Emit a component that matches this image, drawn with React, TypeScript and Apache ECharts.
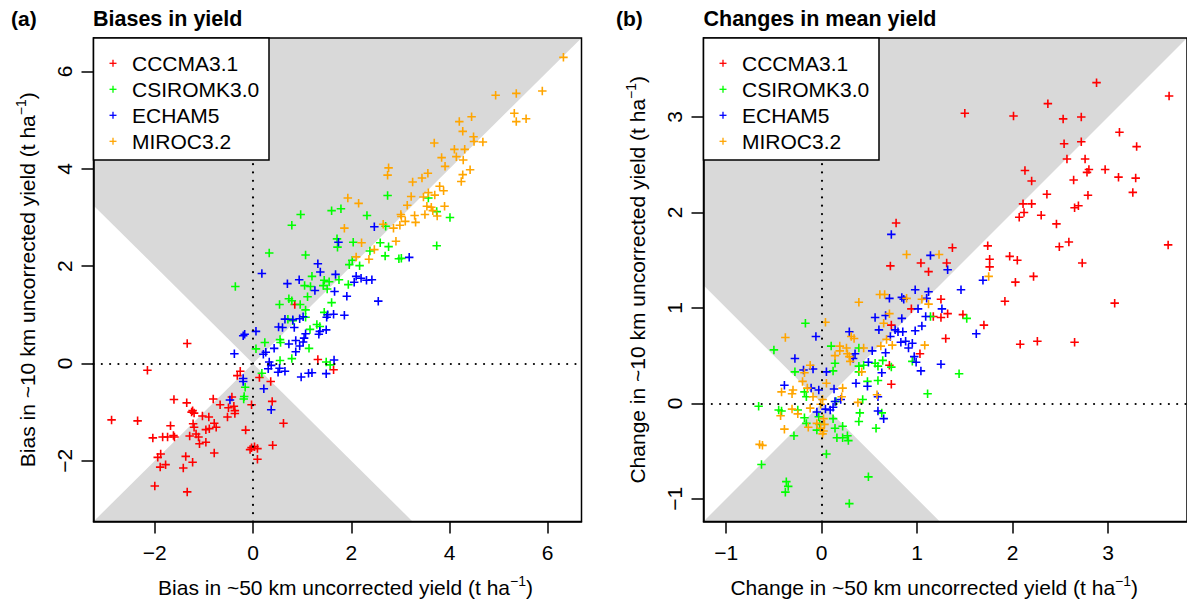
import React, { useEffect, useRef } from 'react';
import * as echarts from 'echarts';

const models = ['CCCMA3.1', 'CSIROMK3.0', 'ECHAM5', 'MIROC3.2'];
const modelColors = ['#FF0000', '#00FF00', '#0000FF', '#FFA500'];

// Panel (a): biases in yield [~50 km bias, ~10 km bias]
const biasCCCMA = [[-1.34,0.41],[-2.15,-0.14],[0.36,-0.37],[-1.61,-0.74],[-1.35,-0.81],[-1.23,-0.97],[-1.25,-1.00],[-1.20,-1.02],[-0.81,-0.73],[-0.67,-0.85],[-0.50,-0.91],[-0.39,-0.88],[-0.37,-0.97],[-0.52,-1.10],[-0.37,-1.03],[-0.43,-0.69],[-0.03,-0.85],[0.39,-0.78],[0.62,-1.23],[-0.15,-1.37],[-2.88,-1.16],[-2.35,-1.18],[-1.68,-1.28],[-1.03,-1.08],[-0.90,-1.10],[-1.22,-1.24],[-1.20,-1.31],[-0.96,-1.36],[-0.89,-1.34],[-0.79,-1.23],[-0.75,-1.31],[-2.04,-1.53],[-1.84,-1.51],[-1.74,-1.51],[-1.62,-1.48],[-1.60,-1.51],[-1.29,-1.49],[-1.16,-1.45],[-1.11,-1.51],[-1.09,-1.65],[-0.96,-1.62],[-0.79,-1.84],[-1.88,-1.86],[-1.94,-1.93],[-1.78,-2.08],[-1.89,-2.13],[-1.37,-1.91],[-1.23,-2.03],[-1.42,-2.15],[-2.00,-2.52],[-1.34,-2.64],[-0.03,-1.73],[0.03,-1.71],[-0.06,-1.77],[0.09,-1.75],[0.09,-1.97],[0.40,-1.68],[0.85,1.21],[1.32,0.08],[1.64,-0.13],[-0.26,-0.16],[-0.32,-0.25],[0.13,-0.29]];
const biasCSIRO = [[2.74,3.45],[1.60,3.14],[1.79,3.18],[2.32,3.04],[3.57,3.40],[3.74,3.12],[4.01,3.00],[2.70,2.82],[0.97,3.06],[1.71,2.56],[0.79,2.84],[0.33,2.27],[-0.36,1.58],[1.07,2.23],[1.72,2.39],[2.04,2.49],[2.38,2.31],[2.59,2.48],[2.76,2.40],[2.69,2.21],[2.97,2.15],[3.02,2.16],[3.74,2.42],[2.02,2.12],[1.96,2.03],[2.17,2.01],[1.20,1.79],[1.45,1.71],[1.55,1.68],[1.75,1.72],[1.05,1.60],[1.17,1.58],[1.43,1.60],[1.51,1.53],[1.94,1.62],[1.11,1.37],[0.73,1.33],[0.79,1.29],[0.54,1.21],[0.96,1.21],[1.07,1.10],[1.07,0.95],[1.60,1.25],[1.45,1.05],[0.71,0.91],[0.81,0.88],[1.30,0.80],[1.36,0.76],[1.16,0.70],[0.55,0.49],[0.56,0.43],[0.24,0.43],[0.06,0.30],[1.14,0.31],[0.79,0.10],[0.55,0.06],[1.49,0.03],[1.57,-0.03],[0.18,-0.20],[-0.16,-0.49],[-0.18,-0.68],[-0.19,-0.73]];
const biasECHAM = [[2.47,2.81],[1.74,2.49],[3.18,2.18],[1.32,2.05],[1.37,1.88],[1.68,1.83],[0.18,1.85],[0.94,1.72],[0.70,1.64],[2.10,1.79],[2.20,1.75],[2.31,1.71],[2.42,1.72],[2.06,1.67],[1.26,1.50],[1.66,1.48],[1.91,1.38],[2.55,1.28],[1.52,1.00],[1.64,1.01],[1.86,0.99],[1.50,0.95],[0.65,0.91],[0.81,0.90],[0.95,0.92],[1.02,0.96],[0.52,0.75],[0.60,0.74],[0.84,0.74],[1.49,0.69],[1.34,0.60],[1.36,0.66],[1.07,0.61],[1.04,0.52],[0.87,0.47],[1.02,0.44],[0.95,0.36],[0.73,0.40],[0.43,0.31],[0.26,0.23],[0.21,0.19],[0.87,0.24],[0.06,0.66],[-0.17,0.60],[-0.20,0.57],[-0.38,0.20],[0.33,0.03],[0.37,-0.04],[0.54,-0.10],[0.31,-0.11],[0.65,-0.16],[0.51,-0.18],[1.65,0.07],[1.13,-0.20],[1.20,-0.19],[1.49,-0.21],[0.98,-0.28],[-0.20,-0.31],[-0.20,-0.37],[0.22,-0.52],[0.37,-0.95],[-0.47,-0.75]];
const biasMIROC = [[6.32,6.29],[4.94,5.51],[5.36,5.55],[5.89,5.60],[5.32,5.14],[5.36,4.97],[5.56,5.03],[4.20,4.97],[4.45,5.07],[4.27,4.77],[4.49,4.66],[4.50,4.56],[4.68,4.55],[3.69,4.53],[4.10,4.40],[4.31,4.40],[4.14,4.25],[4.28,4.18],[3.84,4.23],[3.91,4.05],[4.42,3.98],[4.27,3.88],[4.24,3.74],[2.76,4.02],[2.74,3.87],[3.56,3.91],[3.44,3.81],[3.25,3.73],[3.80,3.64],[3.88,3.55],[3.22,3.43],[3.57,3.51],[3.47,3.42],[3.70,3.46],[1.93,3.40],[2.15,3.29],[3.14,3.25],[3.54,3.23],[3.63,3.21],[3.90,3.23],[3.66,3.14],[3.75,3.03],[3.50,3.06],[3.29,3.04],[3.01,3.06],[3.02,3.02],[3.10,2.92],[3.31,2.90],[2.99,2.84],[2.86,2.78],[2.65,2.86],[1.86,2.78],[2.21,2.48],[2.47,2.34],[2.36,2.14],[2.10,2.19],[2.91,2.51]];

// Panel (b): changes in mean yield [~50 km change, ~10 km change]
const changeCCCMA = [[2.88,3.36],[2.37,3.14],[1.50,3.04],[2.01,3.01],[2.53,2.98],[2.72,3.00],[3.12,2.84],[3.30,2.69],[2.54,2.72],[2.72,2.74],[2.57,2.56],[2.76,2.56],[2.80,2.45],[2.78,2.42],[2.97,2.45],[3.11,2.37],[3.29,2.36],[2.64,2.34],[2.13,2.44],[2.20,2.33],[2.79,2.18],[3.26,2.21],[2.36,2.19],[2.11,2.09],[2.20,2.09],[2.12,2.00],[2.07,1.95],[2.30,1.97],[2.65,2.05],[2.69,2.07],[2.46,1.88],[2.49,1.64],[2.59,1.69],[2.73,1.47],[1.74,1.65],[1.37,1.63],[1.97,1.54],[2.05,1.50],[1.76,1.51],[1.76,1.43],[1.04,1.47],[1.31,1.47],[1.12,1.38],[2.22,1.33],[2.03,1.27],[1.92,1.07],[3.07,1.05],[1.25,1.09],[0.94,0.99],[1.32,0.94],[1.25,0.90],[1.17,0.91],[1.48,0.93],[1.70,0.82],[1.30,0.68],[2.08,0.62],[2.26,0.65],[2.65,0.64],[1.03,0.52],[3.64,3.22],[3.63,1.66],[0.78,1.89],[0.72,1.44],[0.73,0.82],[0.73,0.20],[0.71,0.40]];
const changeCSIRO = [[1.14,0.91],[1.52,0.89],[1.44,0.31],[0.95,0.44],[-0.17,0.84],[-0.50,0.56],[0.10,0.60],[0.39,0.58],[0.14,0.42],[0.12,0.34],[-0.28,0.33],[0.39,0.39],[0.44,0.40],[0.56,0.42],[0.59,0.39],[0.64,0.45],[0.73,0.38],[0.59,0.24],[0.48,0.23],[1.11,0.10],[-0.18,0.12],[-0.16,0.07],[0.39,0.33],[-0.66,-0.03],[-0.45,-0.07],[-0.42,-0.08],[-0.25,-0.07],[-0.18,-0.15],[-0.16,-0.21],[-0.29,-0.34],[0.12,-0.16],[-0.03,-0.14],[-0.05,-0.28],[-0.02,-0.22],[0.14,-0.26],[0.22,-0.24],[0.16,-0.36],[0.22,-0.36],[0.27,-0.34],[0.28,-0.39],[0.40,-0.10],[0.39,-0.19],[0.57,-0.26],[0.63,-0.10],[0.05,-0.53],[-0.63,-0.64],[0.49,-0.77],[-0.37,-0.82],[-0.35,-0.87],[-0.38,-0.93],[0.29,-1.05],[0.43,0.04],[0.15,0.02]];
const changeECHAM = [[1.14,1.55],[1.32,1.40],[1.69,1.29],[1.46,1.19],[0.98,1.19],[1.12,1.17],[1.10,1.10],[1.01,0.99],[1.26,0.99],[1.09,0.91],[1.62,0.73],[1.05,0.81],[0.98,0.76],[0.95,0.63],[0.97,0.49],[1.25,0.41],[0.73,1.77],[0.84,1.11],[0.86,1.09],[0.71,1.10],[0.56,0.90],[0.67,0.92],[0.84,0.89],[0.60,0.77],[0.77,0.77],[0.80,0.75],[0.85,0.75],[0.72,0.70],[0.83,0.64],[0.88,0.65],[0.91,0.58],[1.04,0.34],[0.29,0.75],[-0.06,0.70],[0.53,0.55],[0.67,0.53],[0.35,0.52],[0.33,0.47],[-0.28,0.47],[0.49,0.43],[-0.19,0.35],[-0.09,0.36],[0.05,0.33],[0.63,0.32],[-0.39,0.19],[0.36,0.21],[0.48,0.18],[0.13,0.15],[-0.03,0.14],[-0.11,0.16],[0.59,0.07],[0.99,0.43],[-0.05,-0.09],[0.04,-0.06],[0.09,-0.07],[0.12,-0.04],[0.59,-0.08],[0.65,-0.16],[0.14,0.02],[0.20,0.04]];
const changeMIROC = [[1.23,1.56],[1.75,1.33],[1.05,1.09],[1.12,1.04],[1.08,0.61],[0.89,1.56],[0.61,1.14],[0.66,1.14],[0.89,1.10],[0.39,1.06],[0.71,0.94],[0.65,0.84],[0.04,0.85],[-0.38,0.69],[0.31,0.70],[0.34,0.68],[0.68,0.67],[0.74,0.61],[0.19,0.60],[0.26,0.58],[0.44,0.58],[0.62,0.60],[0.14,0.50],[0.27,0.52],[0.29,0.49],[0.19,0.55],[0.30,0.44],[-0.12,0.40],[-0.18,0.32],[0.42,0.33],[-0.20,0.23],[0.05,0.21],[-0.15,0.16],[-0.30,0.14],[-0.42,0.12],[-0.31,0.10],[0.22,0.16],[0.21,0.07],[-0.09,0.07],[0.58,0.09],[-0.43,-0.13],[-0.31,-0.06],[-0.25,-0.11],[-0.12,-0.05],[-0.14,-0.25],[-0.39,-0.27],[-0.65,-0.43],[-0.62,-0.44],[-0.05,-0.21],[-0.01,-0.26],[0.03,-0.22],[0.02,-0.16],[0.02,-0.29],[0.01,-0.32],[0.38,0.01],[0.01,0.04],[-0.01,-0.01]];

const leftTicks = [-2, 0, 2, 4, 6];
const rightTicks = [-1, 0, 1, 2, 3];

const panelTitles = ['Biases in yield', 'Changes in mean yield'];
const panelTags = ['(a)', '(b)'];
const xNames = ['Bias in ~50 km uncorrected yield (t ha', 'Change in ~50 km uncorrected yield (t ha'];
const yNames = ['Bias in ~10 km uncorrected yield (t ha', 'Change in ~10 km uncorrected yield (t ha'];

const FONT = '"Liberation Sans", Arial, Helvetica, sans-serif';
const PLUS = 'path://M6.5,0H9.5V6.5H16V9.5H9.5V16H6.5V9.5H0V6.5H6.5Z';

// R-style limits: common range of both coordinates, extended by 4%
function limits(sets: number[][][]) {
  let lo = Infinity, hi = -Infinity;
  sets.forEach(s => s.forEach(p => p.forEach(v => { lo = Math.min(lo, v); hi = Math.max(hi, v); })));
  const r = hi - lo;
  return [lo - 0.04 * r, hi + 0.04 * r];
}

const grids = [
  { left: 93.5, top: 38, width: 488, height: 483.7 },
  { left: 703.5, top: 38, width: 485, height: 483.7 },
];

function tickFmt(v: number) {
  return v < 0 ? '\u2212' + Math.abs(v) : String(v);
}

function nameRich(pad: number[]) {
  return {
    color: '#000', fontFamily: FONT, fontSize: 21, padding: pad,
    rich: {
      n: { fontSize: 21, lineHeight: 28, fontFamily: FONT, color: '#000' },
      s: { fontSize: 14, lineHeight: 14, verticalAlign: 'top', fontFamily: FONT, color: '#000' },
    },
  };
}

function makeAxis(gi: number, lim: number[], ticks: number[], isY: boolean, name: string, pad: number[]) {
  return {
    type: 'value', gridIndex: gi, min: lim[0], max: lim[1], z: 5,
    splitLine: { show: false },
    axisLine: { show: true, onZero: false, lineStyle: { color: '#000', width: 1.5 } },
    axisTick: { show: true, length: 12, lineStyle: { color: '#000', width: 1.5 }, customValues: ticks },
    axisLabel: {
      show: true, customValues: ticks, rotate: isY ? 90 : 0, margin: isY ? 19 : 20,
      fontSize: 21, color: '#000', fontFamily: FONT, formatter: tickFmt,
    },
    name: '{n|' + name + '}{s|\u22121}{n|)}',
    nameLocation: 'middle', nameGap: 52,
    nameTextStyle: nameRich(pad),
  };
}

function shadeSeries(gi: number, lim: number[]) {
  const lo = lim[0], hi = lim[1];
  return {
    type: 'custom', xAxisIndex: gi, yAxisIndex: gi, silent: true, z: 1,
    data: [[0, 0]],
    renderItem: (params: any, api: any) => {
      const c = (p: number[]) => api.coord(p);
      return {
        type: 'group',
        children: [
          { type: 'polygon', shape: { points: [c([0, 0]), c([hi, hi]), c([lo, hi]), c([lo, -lo])] }, style: { fill: '#D9D9D9' } },
          { type: 'polygon', shape: { points: [c([0, 0]), c([lo, lo]), c([-lo, lo])] }, style: { fill: '#D9D9D9' } },
        ],
      };
    },
  };
}

function scatterSeries(gi: number, sets: number[][][]) {
  return sets.map((data, i) => ({
    type: 'scatter', name: models[i], xAxisIndex: gi, yAxisIndex: gi, z: 2,
    symbol: PLUS, symbolSize: 8.5,
    itemStyle: { color: modelColors[i], opacity: 1 },
    data,
    markLine: i === 0 ? {
      silent: true, symbol: ['none', 'none'], label: { show: false },
      lineStyle: { color: '#000', width: 2.2, type: [0.01, 8.3], cap: 'round' },
      data: [{ xAxis: 0 }, { yAxis: 0 }],
    } : undefined,
  }));
}

function legendGraphic(x0: number) {
  const Z = 100;
  const els: any[] = [
    { type: 'rect', z: Z, shape: { x: x0, y: 38, width: 175.5, height: 122 }, style: { fill: '#fff', stroke: '#000', lineWidth: 1.5 } },
  ];
  models.forEach((m, i) => {
    const cy = 38 + 25.3 + i * 26;
    const cx = x0 + 19.5;
    els.push({ type: 'line', z: Z + 1, shape: { x1: cx - 3.5, y1: cy, x2: cx + 3.5, y2: cy }, style: { stroke: modelColors[i], lineWidth: 1.3 } });
    els.push({ type: 'line', z: Z + 1, shape: { x1: cx, y1: cy - 3.5, x2: cx, y2: cy + 3.5 }, style: { stroke: modelColors[i], lineWidth: 1.3 } });
    els.push({ type: 'text', z: Z + 1, x: x0 + 38.5, y: cy, style: { text: m, fontSize: 21, fontFamily: FONT, fill: '#000', verticalAlign: 'middle' } });
  });
  return els;
}

export default function App() {
  const ref = useRef<HTMLDivElement>(null);
  useEffect(() => {
    const chart = echarts.init(ref.current!, null, { renderer: 'svg' });
    const leftSets = [biasCCCMA, biasCSIRO, biasECHAM, biasMIROC];
    const rightSets = [changeCCCMA, changeCSIRO, changeECHAM, changeMIROC];
    const limA = limits(leftSets);
    const limB = limits(rightSets);
    const titleStyle = { fontSize: 21, fontWeight: 'bold', fontFamily: FONT, color: '#000' };
    chart.setOption({
      animation: false,
      backgroundColor: '#fff',
      title: [
        { text: panelTags[0], left: 11, top: 8, padding: 0, textStyle: titleStyle },
        { text: panelTitles[0], left: 93, top: 8, padding: 0, textStyle: { ...titleStyle, fontSize: 21.5 } },
        { text: panelTags[1], left: 616, top: 8, padding: 0, textStyle: titleStyle },
        { text: panelTitles[1], left: 703.5, top: 8, padding: 0, textStyle: { ...titleStyle, fontSize: 21.5 } },
      ],
      grid: grids.map(g => ({ ...g, show: true, z: 3, borderColor: '#000', borderWidth: 1.5, backgroundColor: 'transparent', containLabel: false })),
      xAxis: [
        makeAxis(0, limA, leftTicks, false, xNames[0], [0, 0, 0, 16]),
        makeAxis(1, limB, rightTicks, false, xNames[1], [0, 22, 0, 0]),
      ],
      yAxis: [
        makeAxis(0, limA, leftTicks, true, yNames[0], [0, 0, 0, 0]),
        makeAxis(1, limB, rightTicks, true, yNames[1], [0, 0, 0, 0]),
      ],
      series: [
        shadeSeries(0, limA),
        shadeSeries(1, limB),
        ...scatterSeries(0, leftSets),
        ...scatterSeries(1, rightSets),
      ],
      graphic: { elements: [...legendGraphic(grids[0].left), ...legendGraphic(grids[1].left)] },
    });
    return () => chart.dispose();
  }, []);
  return <div ref={ref} style={{ position: 'fixed', left: 0, top: 0, width: 1187, height: 603, background: '#fff' }} />;
}
